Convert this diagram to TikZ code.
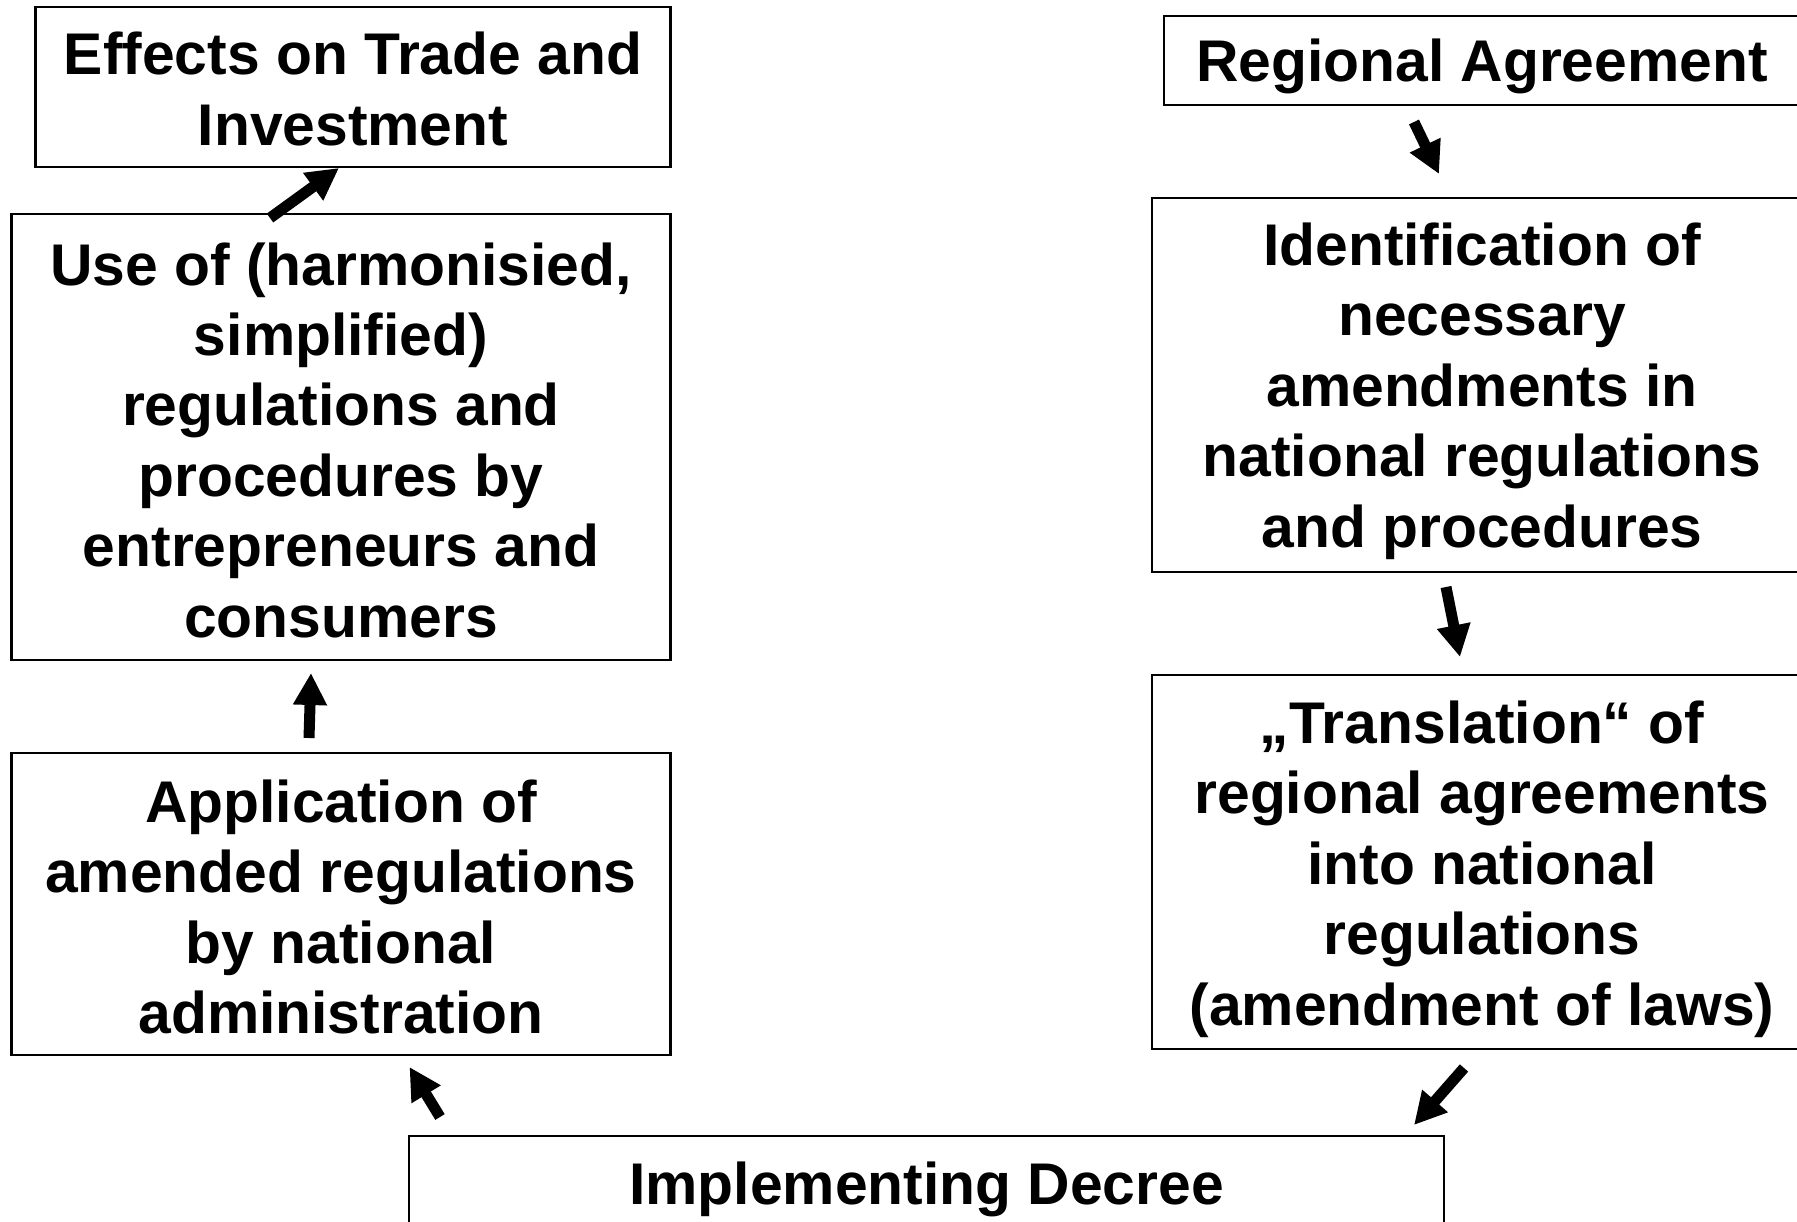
\documentclass[tikz,border=0pt]{standalone}
\usepackage{fontspec}
\setmainfont{Liberation Sans}
\usetikzlibrary{arrows.meta}
\begin{document}
\begin{tikzpicture}[x=1pt,y=-1pt,
  box/.style={draw=black,line width=2.3pt,inner sep=0pt},
  txt/.style={inner sep=0pt,align=center,
    font=\fontsize{58.8}{70.4}\selectfont\bfseries},
  blk/.style={line width=11pt,-{Triangle[width=32pt,length=32pt]}}]
\useasboundingbox (0,0) rectangle (1797,1222);
\clip (0,0) rectangle (1797,1222);
\node[box,minimum width=635pt,minimum height=160pt] (eff) at (353,87) {};
\node[txt] (efft) at ([yshift=-2pt]eff.center) {Effects on Trade and\\Investment};
\node[box,minimum width=659pt,minimum height=446pt] (use) at (341,437) {};
\node[txt] (uset) at ([yshift=-3pt]use.center) {Use of (harmonisied,\\simplified)\\regulations and\\procedures by\\entrepreneurs and\\consumers};
\node[box,minimum width=659pt,minimum height=302pt] (app) at (341,904) {};
\node[txt] (appt) at ([yshift=-3pt]app.center) {Application of\\amended regulations\\by national\\administration};
\node[box,minimum width=636pt,minimum height=89pt] (reg) at (1482,60.5) {};
\node[txt] (regt) at ([yshift=-6pt]reg.center) {Regional Agreement};
\node[box,minimum width=660pt,minimum height=374pt] (ident) at (1482,385) {};
\node[txt] (identt) at ([yshift=-6pt]ident.center) {Identification of\\necessary\\amendments in\\national regulations\\and procedures};
\node[box,minimum width=660pt,minimum height=374pt] (trans) at (1482,862) {};
\node[txt] (transt) at ([yshift=-7pt]trans.center) {„Translation“ of\\regional agreements\\into national\\regulations\\(amendment of laws)};
\node[box,minimum width=1035pt,minimum height=96pt] (impl) at (926.5,1184) {};
\node[txt] (implt) at ([yshift=-5pt]impl.center) {Implementing Decree};
\coordinate (a1s) at (270,218); \coordinate (a1e) at (339,168);
\coordinate (a2s) at (309,738); \coordinate (a2e) at (311,673);
\coordinate (a3s) at (440,1117); \coordinate (a3e) at (409.5,1067);
\coordinate (a4s) at (1414,122); \coordinate (a4e) at (1439,174);
\coordinate (a5s) at (1446,587); \coordinate (a5e) at (1460,657);
\coordinate (a6s) at (1464,1068); \coordinate (a6e) at (1414,1125);
\draw[blk] (a1s) -- (a1e);
\draw[blk] (a2s) -- (a2e);
\draw[blk] (a3s) -- (a3e);
\draw[blk] (a4s) -- (a4e);
\draw[blk] (a5s) -- (a5e);
\draw[blk] (a6s) -- (a6e);
\end{tikzpicture}
\end{document}
